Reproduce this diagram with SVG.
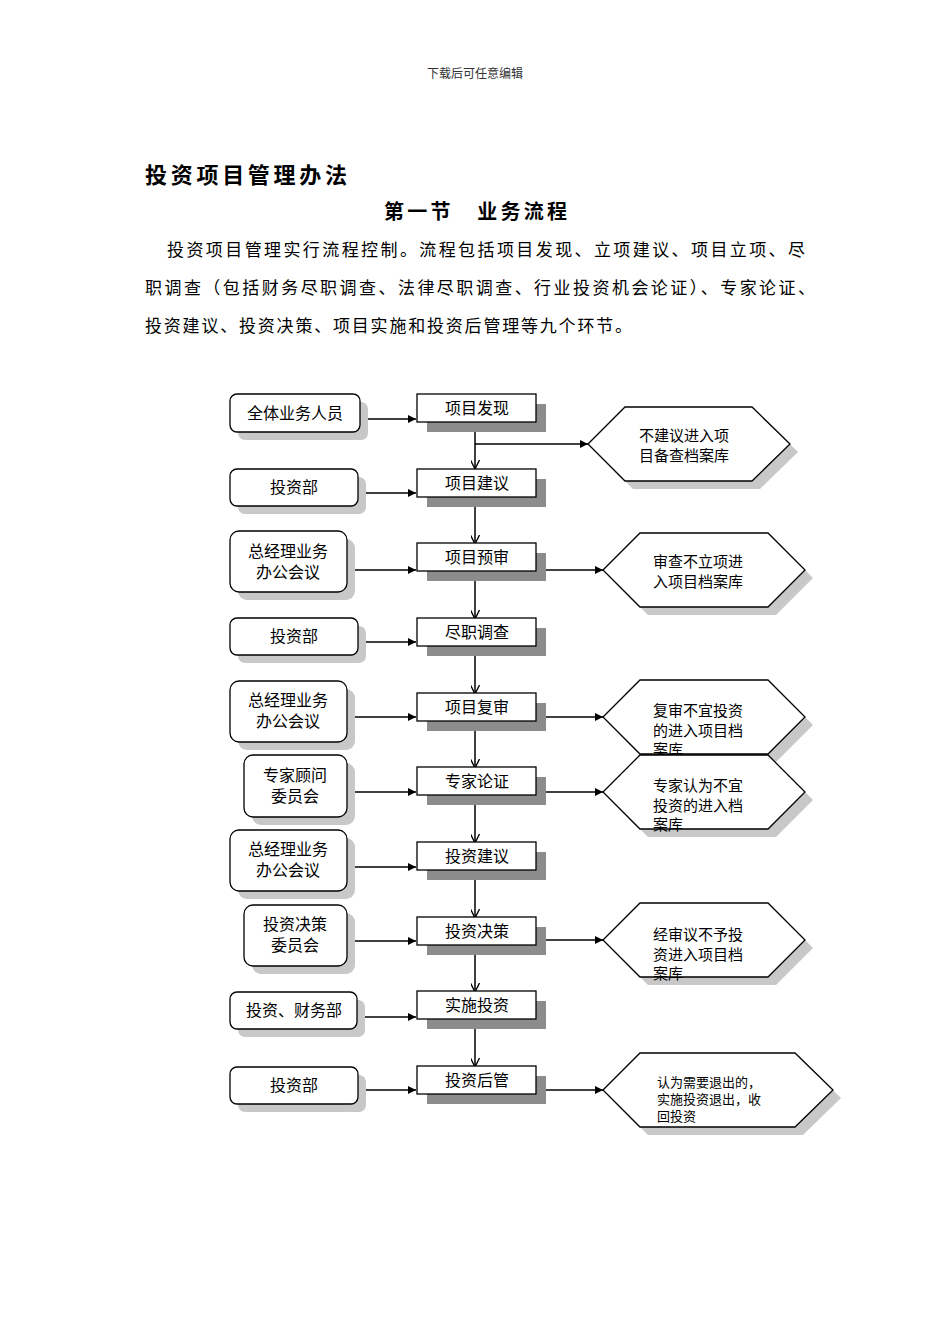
<svg xmlns="http://www.w3.org/2000/svg" width="950" height="1344" viewBox="0 0 950 1344">
<defs>
<style>
text{font-family:"Liberation Serif","Noto Sans CJK SC",serif;fill:#000}
.t{font-size:16px;text-anchor:middle}
.h{font-family:"Noto Sans CJK SC",sans-serif;font-size:15px}
.box{fill:#fff;stroke:#000;stroke-width:1.3}
.sh{fill:#8c8c8c}
.lsh{fill:#c8c8c8}
.ln{stroke:#000;stroke-width:1.3;fill:none;marker-end:url(#a)}
.vl{stroke:#000;stroke-width:1.5;fill:none;marker-end:url(#v)}
</style>
<marker id="a" viewBox="0 0 10 10" refX="10" refY="5" markerWidth="8" markerHeight="8" markerUnits="userSpaceOnUse" orient="auto"><path d="M0,0L10,5L0,10z" fill="#000"/></marker>
<marker id="v" viewBox="0 0 10 10" refX="10" refY="5" markerWidth="9" markerHeight="9" markerUnits="userSpaceOnUse" orient="auto"><path d="M0,0L10,5L0,10" fill="none" stroke="#000" stroke-width="1.5"/></marker>
</defs>
<rect width="950" height="1344" fill="#fff"/>
<text x="475" y="78" style="font-size:12px;text-anchor:middle;fill:#333">下载后可任意编辑</text>
<text x="145" y="183" style="font-size:22px;font-weight:bold" textLength="202">投资项目管理办法</text>
<text x="384" y="219" style="font-size:20px;font-weight:bold" textLength="183">第一节　业务流程</text>
<text x="167" y="256" style="font-size:17px" textLength="638">投资项目管理实行流程控制。流程包括项目发现、立项建议、项目立项、尽</text>
<text x="145" y="294" style="font-size:17px" textLength="670">职调查（包括财务尽职调查、法律尽职调查、行业投资机会论证）、专家论证、</text>
<text x="145" y="332" style="font-size:17px" textLength="487">投资建议、投资决策、项目实施和投资后管理等九个环节。</text>

<g id="connectors">
<path class="ln" d="M360,419H416"/><path class="ln" d="M358,493H416"/><path class="ln" d="M347,570H416"/>
<path class="ln" d="M358,642H416"/><path class="ln" d="M347,717H416"/><path class="ln" d="M325,792H416"/>
<path class="ln" d="M347,867H416"/><path class="ln" d="M325,941H416"/><path class="ln" d="M357,1017H416"/><path class="ln" d="M358,1090H416"/>
<path class="ln" d="M475,444H588"/><path class="ln" d="M536,570H603"/><path class="ln" d="M536,717H603"/>
<path class="ln" d="M536,792H603"/><path class="ln" d="M536,940H603"/><path class="ln" d="M536,1090H603"/>
<path class="vl" d="M475,422V469"/><path class="vl" d="M475,497V544"/><path class="vl" d="M475,571V619"/>
<path class="vl" d="M475,646V694"/><path class="vl" d="M475,721V768"/><path class="vl" d="M475,795V843"/>
<path class="vl" d="M475,870V918"/><path class="vl" d="M475,945V992"/><path class="vl" d="M475,1019V1067"/>
</g>

<g id="left-nodes">
<g id="l1"><rect class="lsh" x="238" y="402" width="130" height="38" rx="7"/><rect class="box" x="230" y="394" width="130" height="38" rx="7"/><text class="t" x="295" y="419">全体业务人员</text></g>
<g id="l2"><rect class="lsh" x="238" y="477" width="128" height="37" rx="7"/><rect class="box" x="230" y="469" width="128" height="37" rx="7"/><text class="t" x="294" y="493">投资部</text></g>
<g id="l3"><rect class="lsh" x="238" y="539" width="117" height="61" rx="9"/><rect class="box" x="230" y="531" width="117" height="61" rx="9"/><text class="t" x="288" y="557">总经理业务</text><text class="t" x="288" y="578">办公会议</text></g>
<g id="l4"><rect class="lsh" x="238" y="626" width="128" height="37" rx="7"/><rect class="box" x="230" y="618" width="128" height="37" rx="7"/><text class="t" x="294" y="642">投资部</text></g>
<g id="l5"><rect class="lsh" x="238" y="689" width="117" height="61" rx="9"/><rect class="box" x="230" y="681" width="117" height="61" rx="9"/><text class="t" x="288" y="706">总经理业务</text><text class="t" x="288" y="727">办公会议</text></g>
<g id="l6"><rect class="lsh" x="252" y="763" width="103" height="62" rx="9"/><rect class="box" x="244" y="755" width="103" height="62" rx="9"/><text class="t" x="295" y="781">专家顾问</text><text class="t" x="295" y="802">委员会</text></g>
<g id="l7"><rect class="lsh" x="238" y="838" width="117" height="61" rx="9"/><rect class="box" x="230" y="830" width="117" height="61" rx="9"/><text class="t" x="288" y="855">总经理业务</text><text class="t" x="288" y="876">办公会议</text></g>
<g id="l8"><rect class="lsh" x="252" y="913" width="103" height="61" rx="9"/><rect class="box" x="244" y="905" width="103" height="61" rx="9"/><text class="t" x="295" y="930">投资决策</text><text class="t" x="295" y="951">委员会</text></g>
<g id="l9"><rect class="lsh" x="238" y="1000" width="127" height="37" rx="7"/><rect class="box" x="230" y="992" width="127" height="37" rx="7"/><text class="t" x="294" y="1016">投资、财务部</text></g>
<g id="l10"><rect class="lsh" x="238" y="1075" width="128" height="37" rx="7"/><rect class="box" x="230" y="1067" width="128" height="37" rx="7"/><text class="t" x="294" y="1091">投资部</text></g>
</g>

<g id="center-nodes">
<g id="c1"><rect class="sh" x="427" y="404" width="119" height="28"/><rect class="box" x="417" y="394" width="119" height="28"/><text class="t" x="477" y="414">项目发现</text></g>
<g id="c2"><rect class="sh" x="427" y="479" width="119" height="28"/><rect class="box" x="417" y="469" width="119" height="28"/><text class="t" x="477" y="489">项目建议</text></g>
<g id="c3"><rect class="sh" x="427" y="553" width="119" height="28"/><rect class="box" x="417" y="543" width="119" height="28"/><text class="t" x="477" y="563">项目预审</text></g>
<g id="c4"><rect class="sh" x="427" y="628" width="119" height="28"/><rect class="box" x="417" y="618" width="119" height="28"/><text class="t" x="477" y="638">尽职调查</text></g>
<g id="c5"><rect class="sh" x="427" y="703" width="119" height="28"/><rect class="box" x="417" y="693" width="119" height="28"/><text class="t" x="477" y="713">项目复审</text></g>
<g id="c6"><rect class="sh" x="427" y="777" width="119" height="28"/><rect class="box" x="417" y="767" width="119" height="28"/><text class="t" x="477" y="787">专家论证</text></g>
<g id="c7"><rect class="sh" x="427" y="852" width="119" height="28"/><rect class="box" x="417" y="842" width="119" height="28"/><text class="t" x="477" y="862">投资建议</text></g>
<g id="c8"><rect class="sh" x="427" y="927" width="119" height="28"/><rect class="box" x="417" y="917" width="119" height="28"/><text class="t" x="477" y="937">投资决策</text></g>
<g id="c9"><rect class="sh" x="427" y="1001" width="119" height="28"/><rect class="box" x="417" y="991" width="119" height="28"/><text class="t" x="477" y="1011">实施投资</text></g>
<g id="c10"><rect class="sh" x="427" y="1076" width="119" height="28"/><rect class="box" x="417" y="1066" width="119" height="28"/><text class="t" x="477" y="1086">投资后管</text></g>
</g>

<g id="right-nodes">
<g id="r1"><polygon class="lsh" points="596,452 633,415 760,415 798,452 760,489 633,489"/><polygon class="box" points="588,444 625,407 752,407 790,444 752,481 625,481"/><text class="h" x="639" y="441">不建议进入项</text><text class="h" x="639" y="461">目备查档案库</text></g>
<g id="r2"><polygon class="lsh" points="611,578 648,541 776,541 813,578 776,615 648,615"/><polygon class="box" points="603,570 640,533 768,533 805,570 768,607 640,607"/><text class="h" x="653" y="567">审查不立项进</text><text class="h" x="653" y="587">入项目档案库</text></g>
<g id="r3"><polygon class="lsh" points="611,725 648,688 776,688 813,725 776,762 648,762"/><polygon class="box" points="603,717 640,680 768,680 805,717 768,754 640,754"/><text class="h" x="653" y="716">复审不宜投资</text><text class="h" x="653" y="736">的进入项目档</text><text class="h" x="653" y="755">案库</text></g>
<g id="r4"><polygon class="lsh" points="611,800 648,763 776,763 813,800 776,837 648,837"/><polygon class="box" points="603,792 640,755 768,755 805,792 768,829 640,829"/><text class="h" x="653" y="791">专家认为不宜</text><text class="h" x="653" y="811">投资的进入档</text><text class="h" x="653" y="830">案库</text></g>
<g id="r5"><polygon class="lsh" points="611,948 648,911 776,911 813,948 776,985 648,985"/><polygon class="box" points="603,940 640,903 768,903 805,940 768,977 640,977"/><text class="h" x="653" y="940">经审议不予投</text><text class="h" x="653" y="960">资进入项目档</text><text class="h" x="653" y="979">案库</text></g>
<g id="r6"><polygon class="lsh" points="611,1098 648,1061 803,1061 841,1098 803,1135 648,1135"/><polygon class="box" points="603,1090 640,1053 795,1053 833,1090 795,1127 640,1127"/><text class="h" x="657" y="1087" style="font-size:13px">认为需要退出的，</text><text class="h" x="657" y="1104" style="font-size:13px">实施投资退出，收</text><text class="h" x="657" y="1121" style="font-size:13px">回投资</text></g>
</g>
</svg>
